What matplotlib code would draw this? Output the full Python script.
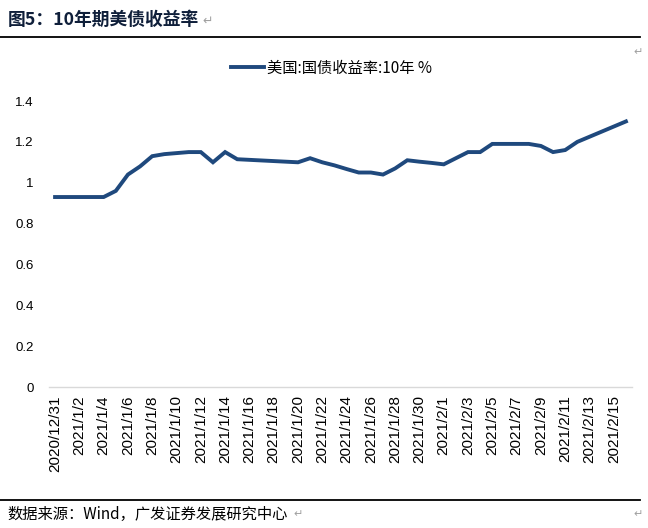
import matplotlib.pyplot as plt
import pandas as pd
from matplotlib.lines import Line2D

plt.rcParams['font.family'] = ['Noto Sans CJK SC', 'DejaVu Sans']

# 美国10年期国债收益率 (%)，2020/12/31 - 2021/2/16 逐日
dates = pd.date_range('2020-12-31', '2021-02-16', freq='D')
yields = [0.93, 0.93, 0.93, 0.93, 0.93, 0.96, 1.04, 1.08, 1.13, 1.14,
          1.145, 1.15, 1.15, 1.10, 1.15, 1.115, 1.112, 1.109, 1.106, 1.103,
          1.10, 1.12, 1.10, 1.085, 1.067, 1.05, 1.05, 1.04, 1.07, 1.11,
          1.103, 1.097, 1.09, 1.12, 1.15, 1.15, 1.19, 1.19, 1.19, 1.19,
          1.18, 1.15, 1.16, 1.20, 1.225, 1.25, 1.275, 1.30]
labels = [f'{d.year}/{d.month}/{d.day}' for d in dates]
legend_label = '美国:国债收益率:10年 %'
title = '图5：10年期美债收益率'
source = '数据来源：Wind，广发证券发展研究中心'

fig = plt.figure(figsize=(6.48, 5.28), dpi=100)
ax = fig.add_axes([0.0756, 0.267, 0.8997, 0.5417])

x = list(range(len(yields)))
line, = ax.plot(x, yields, color='#1F497D', lw=2.8, solid_joinstyle='miter')

ax.set_xlim(-0.5, len(yields) - 0.5)
ax.set_ylim(0, 1.4)
ax.set_yticks([0, 0.2, 0.4, 0.6, 0.8, 1.0, 1.2, 1.4])
ax.set_yticklabels(['0', '0.2', '0.4', '0.6', '0.8', '1', '1.2', '1.4'])
ax.set_xticks(x[::2])
ax.set_xticklabels(labels[::2], rotation=90)
ax.tick_params(length=0, colors='#000000')
ax.tick_params(axis='x', labelsize=11, pad=6)
ax.tick_params(axis='y', labelsize=9.5, pad=11)
for lab in ax.get_xticklabels() + ax.get_yticklabels():
    lab.set_family(['Liberation Sans', 'DejaVu Sans'])

for s in ['top', 'right', 'left']:
    ax.spines[s].set_visible(False)
ax.spines['bottom'].set_color('#D9D9D9')
ax.spines['bottom'].set_linewidth(1.0)

fig.legend([line], [legend_label], loc='center', bbox_to_anchor=(0.511, 0.871),
           frameon=False, fontsize=11, handlelength=2.2, handletextpad=0.15)

# 标题与来源
fig.text(0.012, 0.962, title, fontsize=12.8, fontweight='bold', color='#0F1F3A',
         va='center', ha='left')
fig.text(0.312, 0.960, '↵', fontsize=9, color='#A0A0A0', va='center', ha='left',
         family='DejaVu Sans')
fig.add_artist(Line2D([0, 0.988], [0.929, 0.929], color='black', lw=1.3))
fig.text(0.978, 0.902, '↵', fontsize=8, color='#A0A0A0', va='center', ha='left',
         family='DejaVu Sans')

fig.add_artist(Line2D([0, 0.988], [0.053, 0.053], color='black', lw=1.3))
fig.text(0.012, 0.026, source, fontsize=11, color='#000000', va='center', ha='left')
fig.text(0.453, 0.026, '↵', fontsize=8, color='#A0A0A0', va='center', ha='left',
         family='DejaVu Sans')
fig.text(0.978, 0.026, '↵', fontsize=8, color='#A0A0A0', va='center', ha='left',
         family='DejaVu Sans')

fig.savefig('out.png', dpi=100)
